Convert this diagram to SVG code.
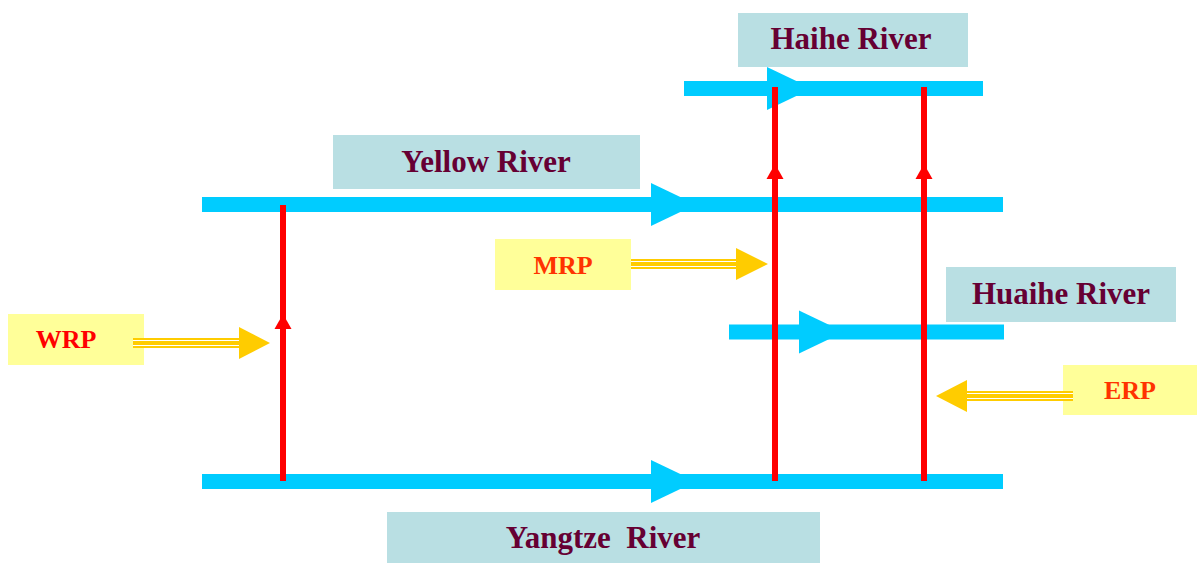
<svg xmlns="http://www.w3.org/2000/svg" xmlns:xlink="http://www.w3.org/1999/xlink" width="1197" height="563" viewBox="0 0 1197 563">
<style>
.river{stroke:#00CCFF;stroke-width:15;fill:none}
.bhead{fill:#00CCFF}
.canal{stroke:#FF0000;stroke-width:6;fill:none}
.rhead{fill:#FF0000}
.rbox{fill:#B9DFE3}
.ybox{fill:#FFFF99}
.rtxt{font-family:"Liberation Serif","Times New Roman",serif;font-weight:bold;font-size:31px;fill:#660033;text-anchor:middle;white-space:pre}
.ptxt{font-family:"Liberation Serif","Times New Roman",serif;font-weight:bold;font-size:26px;fill:#FF3300;text-anchor:middle}
.yfill{fill:#FFCC00}
.ygap{stroke:#FFFFFF;stroke-width:1.2}
</style>
<defs>
<polygon id="bh" points="0,-21.5 0,21.5 45,0"/>
<polygon id="rh" points="-8.5,0 8.5,0 0,-15"/>
</defs>
<rect width="1197" height="563" fill="#FFFFFF"/>
<g id="haihe">
<rect class="rbox" x="738" y="13" width="230" height="54"/>
<text class="rtxt" x="851" y="49">Haihe River</text>
</g>
<g id="yellow">
<rect class="rbox" x="333" y="135" width="307" height="54"/>
<text class="rtxt" x="486" y="172">Yellow River</text>
</g>
<g id="huaihe">
<rect class="rbox" x="946" y="267" width="230" height="55"/>
<text class="rtxt" x="1061" y="304">Huaihe River</text>
</g>
<g id="yangtze">
<rect class="rbox" x="387" y="512" width="433" height="51"/>
<text class="rtxt" x="603" y="548">Yangtze  River</text>
</g>
<g id="wrp">
<rect class="ybox" x="8" y="314" width="136" height="51"/>
<text class="ptxt" x="66" y="348" style="fill:#FF0000">WRP</text>
</g>
<g id="mrp">
<rect class="ybox" x="495" y="239" width="136" height="51"/>
<text class="ptxt" x="563" y="274">MRP</text>
</g>
<g id="erp">
<rect class="ybox" x="1063" y="365" width="134" height="50"/>
<text class="ptxt" x="1130" y="399">ERP</text>
</g>
<g id="connectors">
<g id="rivers">
<line class="river" x1="202" y1="204.5" x2="1003" y2="204.5"/>
<line class="river" x1="202" y1="481.5" x2="1003" y2="481.5"/>
<line class="river" x1="684" y1="88.5" x2="983" y2="88.5"/>
<line class="river" x1="729" y1="332" x2="1004" y2="332"/>
<use href="#bh" class="bhead" x="651" y="204.5"/>
<use href="#bh" class="bhead" x="651" y="481.5"/>
<use href="#bh" class="bhead" x="767" y="88.5"/>
<use href="#bh" class="bhead" x="799" y="332"/>
</g>
<g id="canals">
<line class="canal" x1="283" y1="205" x2="283" y2="481"/>
<line class="canal" x1="775" y1="87" x2="775" y2="481"/>
<line class="canal" x1="924" y1="87" x2="924" y2="481"/>
<use href="#rh" class="rhead" x="283" y="329"/>
<use href="#rh" class="rhead" x="775" y="179"/>
<use href="#rh" class="rhead" x="924" y="179"/>
</g>
<g id="transfer-arrows">
<rect class="yfill" x="133" y="338" width="107" height="10"/>
<line class="ygap" x1="133" y1="340.5" x2="240" y2="340.5"/>
<line class="ygap" x1="133" y1="345.5" x2="240" y2="345.5"/>
<polygon class="yfill" points="239,327 239,359 270,343"/>
<rect class="yfill" x="631" y="259" width="106" height="10"/>
<line class="ygap" x1="631" y1="261.5" x2="737" y2="261.5"/>
<line class="ygap" x1="631" y1="266.5" x2="737" y2="266.5"/>
<polygon class="yfill" points="736,248 736,280 768,264"/>
<rect class="yfill" x="966" y="391" width="107" height="10"/>
<line class="ygap" x1="966" y1="393.5" x2="1073" y2="393.5"/>
<line class="ygap" x1="966" y1="398.5" x2="1073" y2="398.5"/>
<polygon class="yfill" points="967,380 967,412 936,396"/>
</g>
</g>
</svg>
